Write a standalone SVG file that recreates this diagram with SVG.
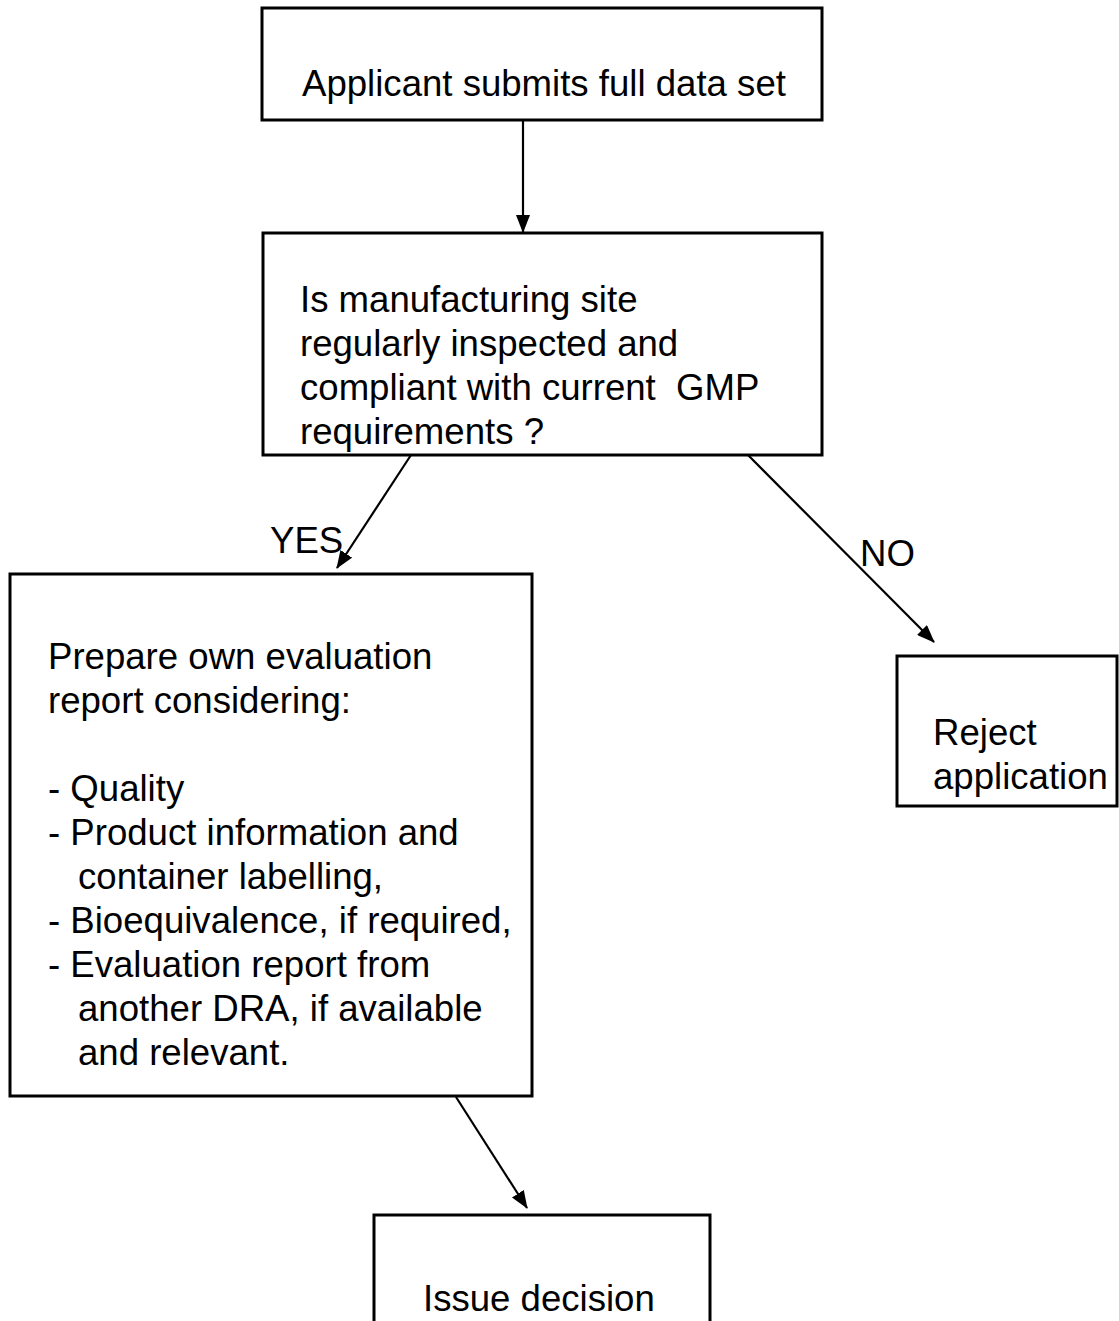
<svg xmlns="http://www.w3.org/2000/svg" width="1119" height="1321" viewBox="0 0 1119 1321">
<style>
.box{fill:#fff;stroke:#000;stroke-width:3}
.t{font-family:"Liberation Sans",Arial,sans-serif;font-size:36.6px;fill:#000;white-space:pre}
.c{stroke:#000;stroke-width:2.2;fill:none;marker-end:url(#ah)}
</style>
<defs>
<marker id="ah" viewBox="0 0 18 14" refX="17" refY="7" markerWidth="18" markerHeight="14" markerUnits="userSpaceOnUse" orient="auto">
<path d="M0,0 L18,7 L0,14 z" fill="#000"/>
</marker>
</defs>
<rect width="1119" height="1321" fill="#fff"/>
<g id="connectors">
<line class="c" x1="523" y1="120" x2="523" y2="232"/>
<line class="c" x1="411" y1="455" x2="337" y2="568"/>
<line class="c" x1="748" y1="455" x2="934" y2="642"/>
<line class="c" x1="456" y1="1097" x2="527" y2="1208"/>
<text class="t" x="270" y="553">YES</text>
<text class="t" x="860" y="566">NO</text>
</g>
<g id="n1">
<rect class="box" x="262" y="8" width="560" height="112"/>
<text class="t" x="302" y="96">Applicant submits full data set</text>
</g>
<g id="n2">
<rect class="box" x="263" y="233" width="559" height="222"/>
<text class="t" x="300" y="312">Is manufacturing site</text>
<text class="t" x="300" y="356">regularly inspected and</text>
<text class="t" x="300" y="400" xml:space="preserve">compliant with current  GMP</text>
<text class="t" x="300" y="444">requirements ?</text>
</g>
<g id="n3">
<rect class="box" x="10" y="574" width="522" height="522"/>
<text class="t" x="48" y="669">Prepare own evaluation</text>
<text class="t" x="48" y="713">report considering:</text>
<text class="t" x="48" y="801">- Quality</text>
<text class="t" x="48" y="845">- Product information and</text>
<text class="t" x="78" y="889">container labelling,</text>
<text class="t" x="48" y="933">- Bioequivalence, if required,</text>
<text class="t" x="48" y="977">- Evaluation report from</text>
<text class="t" x="78" y="1021">another DRA, if available</text>
<text class="t" x="78" y="1065">and relevant.</text>
</g>
<g id="n4">
<rect class="box" x="897" y="656" width="220" height="150"/>
<text class="t" x="933" y="745">Reject</text>
<text class="t" x="933" y="789">application</text>
</g>
<g id="n5">
<rect class="box" x="374" y="1215" width="336" height="120"/>
<text class="t" x="423" y="1311">Issue decision</text>
</g>
</svg>
